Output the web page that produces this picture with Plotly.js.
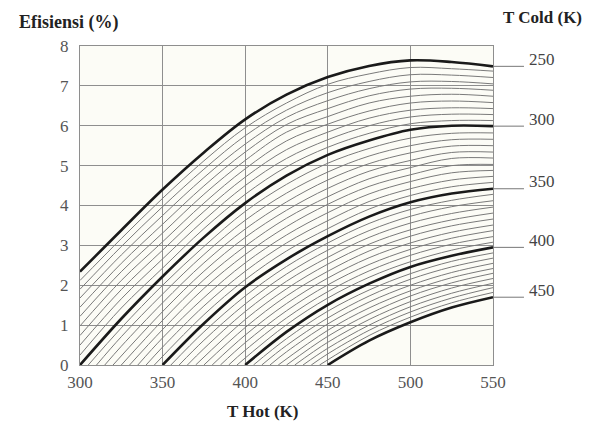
<!DOCTYPE html>
<html>
<head>
<meta charset="utf-8">
<script src="https://cdn.plot.ly/plotly-3.0.1.min.js"></script>
<style>html,body{margin:0;padding:0;background:#fff;}#chart{width:598px;height:423px;}</style>
</head>
<body>
<div id="chart"></div>
<script>
// Hot-side temperatures (K) at which efficiencies were read
const thHot = [300, 325, 350, 375, 400, 425, 450, 475, 500, 525, 550];
// Cold-side temperatures (K), one curve each
const tCold = [250,255,260,265,270,275,280,285,290,295,
               300,305,310,315,320,325,330,335,340,345,
               350,355,360,365,370,375,380,385,390,395,
               400,405,410,415,420,425,430,435,440,445,450];
// Bold (labelled) cold temperatures
const thickCold = [250, 300, 350, 400, 450];
// Efficiency (%) per cold temperature, at each hot temperature (null = not read)
const eff300 = [2.34,2.12,1.90,1.68,1.45,1.22,0.98,0.74,0.50,0.25,
  null,null,null,null,null,null,null,null,null,null,
  null,null,null,null,null,null,null,null,null,null,
  null,null,null,null,null,null,null,null,null,null,null];
const eff325 = [3.38,3.17,2.97,2.76,2.55,2.34,2.12,1.89,1.66,1.43,
  1.16,0.93,0.71,0.47,null,null,null,null,null,null,
  null,null,null,null,null,null,null,null,null,null,
  null,null,null,null,null,null,null,null,null,null,null];
const eff350 = [4.40,4.18,3.97,3.75,3.53,3.31,3.09,2.88,2.66,2.43,
  2.22,2.00,1.78,1.56,1.34,1.12,0.89,0.68,0.45,null,
  null,null,null,null,null,null,null,null,null,null,
  null,null,null,null,null,null,null,null,null,null,null];
const eff375 = [5.33,5.12,4.91,4.70,4.49,4.28,4.06,3.85,3.63,3.42,
  3.20,2.97,2.77,2.56,2.35,2.14,1.92,1.69,1.48,1.26,
  1.04,0.83,0.62,0.41,null,null,null,null,null,null,
  null,null,null,null,null,null,null,null,null,null,null];
const eff400 = [6.16,5.95,5.75,5.54,5.34,5.13,4.92,4.71,4.50,4.28,
  4.06,3.85,3.63,3.41,3.20,2.98,2.77,2.56,2.35,2.14,
  1.95,1.73,1.53,1.34,1.14,0.94,0.75,0.56,0.37,null,
  null,null,null,null,null,null,null,null,null,null,null];
const eff425 = [6.78,6.57,6.39,6.21,6.03,5.84,5.62,5.40,5.18,4.97,
  4.75,4.53,4.31,4.09,3.88,3.68,3.47,3.26,3.06,2.86,
  2.65,2.47,2.28,2.10,1.91,1.73,1.54,1.36,1.18,1.01,
  0.83,0.66,0.49,0.33,null,null,null,null,null,null,null];
const eff450 = [7.22,7.04,6.83,6.63,6.43,6.23,6.04,5.84,5.65,5.46,
  5.27,5.06,4.84,4.64,4.43,4.22,4.03,3.82,3.62,3.42,
  3.23,3.06,2.88,2.70,2.53,2.35,2.18,2.01,1.84,1.68,
  1.51,1.35,1.18,1.03,0.87,0.72,0.57,0.42,0.28,null,null];
const eff475 = [7.50,7.30,7.11,6.93,6.75,6.57,6.37,6.19,6.00,5.81,
  5.63,5.43,5.24,5.05,4.86,4.67,4.48,4.29,4.10,3.91,
  3.72,3.55,3.37,3.20,3.03,2.86,2.69,2.52,2.36,2.20,
  2.04,1.88,1.73,1.58,1.43,1.28,1.14,1.00,0.87,0.74,0.61];
const eff500 = [7.64,7.46,7.28,7.10,6.92,6.74,6.57,6.39,6.22,6.05,
  5.90,5.69,5.50,5.32,5.13,4.95,4.77,4.60,4.42,4.25,
  4.08,3.90,3.73,3.56,3.39,3.23,3.06,2.90,2.75,2.59,
  2.46,2.29,2.15,2.00,1.86,1.73,1.59,1.46,1.33,1.20,1.07];
const eff525 = [7.60,7.43,7.27,7.11,6.94,6.79,6.62,6.45,6.29,6.13,
  6.00,5.81,5.65,5.49,5.33,5.18,5.00,4.82,4.64,4.47,
  4.30,4.13,3.97,3.80,3.64,3.49,3.33,3.18,3.03,2.88,
  2.74,2.60,2.46,2.32,2.19,2.06,1.93,1.80,1.68,1.56,1.44];
const eff550 = [7.49,7.37,7.21,7.05,6.89,6.74,6.58,6.43,6.28,6.13,
  5.99,5.82,5.66,5.50,5.34,5.19,5.03,4.88,4.73,4.58,
  4.42,4.28,4.12,3.96,3.81,3.66,3.51,3.37,3.22,3.08,
  2.95,2.81,2.68,2.55,2.42,2.30,2.17,2.05,1.94,1.82,1.70];
const xTicks = [300, 350, 400, 450, 500, 550];
const yTicks = [0, 1, 2, 3, 4, 5, 6, 7, 8];

const effByTh = [eff300, eff325, eff350, eff375, eff400, eff425, eff450, eff475, eff500, eff525, eff550];
const serif = '"Liberation Serif", "DejaVu Serif", serif';

function curve(i) {
  const tc = tCold[i];
  const xs = [], ys = [];
  if (tc >= thHot[0]) { xs.push(tc); ys.push(0); }
  thHot.forEach((th, j) => {
    const v = effByTh[j][i];
    if (v !== null && th > tc) { xs.push(th); ys.push(v); }
  });
  return {xs, ys};
}

const thin = [], thick = [];
tCold.forEach((tc, i) => {
  const c = curve(i);
  const isThick = thickCold.includes(tc);
  const tr = {
    x: c.xs, y: c.ys, type: 'scatter', mode: 'lines',
    line: {shape: 'spline', smoothing: 1,
           color: isThick ? '#1a1a1a' : '#7a7a7a',
           width: isThick ? 2.6 : 1},
    hoverinfo: 'skip', showlegend: false
  };
  (isThick ? thick : thin).push(tr);
});

const titleFont = {family: serif, size: 17, color: '#222'};
const annotations = [
  {text: '<b>Efisiensi (%)</b>', xref: 'paper', yref: 'paper', x: -0.1525, y: 1.075,
   xanchor: 'left', yanchor: 'middle', showarrow: false,
   font: {family: serif, size: 18, color: '#222'}},
  {text: '<b>T Cold (K)</b>', xref: 'paper', yref: 'paper', x: 1.22, y: 1.088,
   xanchor: 'right', yanchor: 'middle', showarrow: false, font: titleFont},
  {text: '<b>T Hot (K)</b>', xref: 'paper', yref: 'paper', x: 0.443, y: -0.147,
   xanchor: 'center', yanchor: 'middle', showarrow: false, font: titleFont}
];
const shapes = [];
thickCold.forEach(tc => {
  const v = eff550[tCold.indexOf(tc)];
  shapes.push({type: 'line', xref: 'paper', yref: 'y', x0: 1, x1: 1.075, y0: v, y1: v,
               line: {color: '#777', width: 1}});
  annotations.push({
    text: String(tc), xref: 'paper', yref: 'y', x: 1.083, y: v,
    xanchor: 'left', yanchor: 'middle', yshift: 7, showarrow: false,
    font: {family: serif, size: 17, color: '#444'}
  });
});

const axisCommon = {
  showgrid: true, gridcolor: '#8e8e8e', gridwidth: 1,
  showline: true, linecolor: '#8e8e8e', linewidth: 1, mirror: true,
  zeroline: false, ticks: '',
  tickfont: {family: serif, size: 17, color: '#555'}
};

const layout = {
  width: 598, height: 423,
  margin: {l: 80, r: 105, t: 46, b: 58},
  paper_bgcolor: '#ffffff',
  plot_bgcolor: '#fcfcf6',
  showlegend: false,
  xaxis: Object.assign({}, axisCommon, {
    range: [300, 550], tickvals: xTicks, ticktext: xTicks.map(String),
    ticklabelstandoff: 2
  }),
  yaxis: Object.assign({}, axisCommon, {
    range: [0, 8], tickvals: yTicks, ticktext: yTicks.map(String),
    ticklabelstandoff: 7
  }),
  shapes: shapes,
  annotations: annotations
};

Plotly.newPlot('chart', thin.concat(thick), layout, {displayModeBar: false, staticPlot: true});
</script>
</body>
</html>
